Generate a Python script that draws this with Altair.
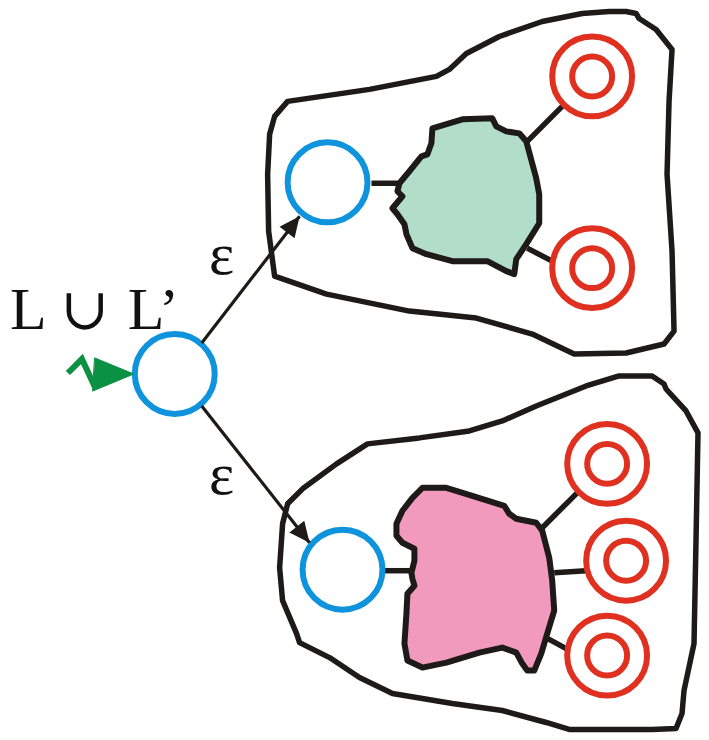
import altair as alt
import pandas as pd

# ---------------- data (pixel coordinates) ----------------
top_region_x = [288, 275, 270, 268, 269, 275, 327, 410, 477, 533, 575, 627, 665, 675, 673, 668, 670, 673, 657, 640, 637, 627, 610, 583, 543, 500, 467, 450, 437, 370]
top_region_y = [100, 115, 133, 173, 230, 275, 293, 310, 317, 333, 353, 352, 343, 330, 250, 173, 100, 48, 28, 17, 12, 10, 10, 12, 20, 35, 52, 68, 75, 88]

bot_region_x = [288, 303, 337, 368, 420, 470, 503, 537, 587, 620, 653, 665, 667, 687, 699, 697, 695, 685, 683, 677, 653, 570, 547, 503, 453, 393, 360, 330, 300, 297, 283, 280, 283]
bot_region_y = [503, 488, 463, 443, 437, 430, 420, 405, 385, 375, 375, 383, 388, 410, 432, 540, 643, 690, 713, 728, 729, 729, 722, 710, 703, 693, 677, 657, 642, 633, 600, 567, 523]

green_blob_x = [433, 463, 493, 497, 507, 520, 527, 537, 540, 540, 527, 517, 515, 507, 488, 453, 427, 413, 407, 405, 398, 393, 403, 398, 400, 410, 422, 428, 432]
green_blob_y = [127, 118, 117, 125, 130, 132, 140, 177, 193, 222, 243, 258, 273, 270, 260, 260, 253, 247, 233, 223, 213, 207, 195, 190, 182, 170, 155, 153, 142]

pink_blob_x = [423, 447, 473, 505, 510, 517, 537, 543, 550, 553, 555, 548, 542, 535, 528, 523, 517, 503, 480, 447, 423, 408, 405, 407, 408, 415, 413, 412, 415, 415, 403, 397, 397, 403, 413]
pink_blob_y = [487, 487, 495, 505, 513, 518, 522, 530, 557, 580, 610, 633, 653, 670, 670, 663, 652, 647, 652, 662, 667, 660, 643, 613, 593, 585, 578, 572, 560, 548, 542, 535, 523, 510, 497]

edge_x1 = [372, 528, 528, 385, 543, 555, 543]
edge_y1 = [182, 140, 247, 570, 527, 572, 635]
edge_x2 = [401, 564, 553, 413, 578, 587, 567]
edge_y2 = [182, 104, 260, 570, 492, 570, 648]

blue_x = [175, 328, 343]
blue_y = [373, 181, 569]

red_x = [593, 593, 608, 627, 608]
red_y = [75, 267, 463, 560, 655]

arrow_x1 = [202, 202]
arrow_y1 = [342, 405]
arrow_x2 = [300, 310]
arrow_y2 = [215, 542]
arrow_angle = [37.6, 141.7]

zig_x = [68, 82, 95]
zig_y = [372, 358, 386]
head_x = [95, 134, 93]
head_y = [357, 373, 390]

label_text = ["L", "\u222a", "L\u2019", "\u03b5", "\u03b5"]
label_x = [10, 85, 128, 222, 222]
label_y = [328, 328, 328, 273, 493]
label_align = ["left", "center", "left", "center", "center"]
label_size = [60, 58, 60, 60, 60]
label_font = ["Liberation Serif", "DejaVu Serif", "Liberation Serif", "Liberation Serif", "Liberation Serif"]

# ---------------- helpers ----------------
XS = alt.Scale(domain=[8, 701], nice=False, zero=False)
YS = alt.Scale(domain=[8, 732], reverse=True, nice=False, zero=False)


def poly_df(xs, ys):
    return pd.DataFrame({"x": xs, "y": ys, "i": list(range(len(xs)))})


def poly(xs, ys, stroke, width, fill=None):
    kw = dict(stroke=stroke, strokeWidth=width, interpolate="linear-closed",
              strokeJoin="round", strokeCap="round")
    if fill is not None:
        kw["fill"] = fill
    return alt.Chart(poly_df(xs, ys)).mark_line(**kw).encode(
        x=alt.X("x:Q", scale=XS, axis=None),
        y=alt.Y("y:Q", scale=YS, axis=None),
        order=alt.Order("i:Q"),
    )


BLACK = "#1d1a17"
BLUE = "#0e93dc"
RED = "#df3020"
GREEN = "#0b9142"

layers = []
layers.append(poly(top_region_x, top_region_y, BLACK, 5.5))
layers.append(poly(bot_region_x, bot_region_y, BLACK, 5.5))

edges = pd.DataFrame({"x": edge_x1, "y": edge_y1, "x2": edge_x2, "y2": edge_y2})
layers.append(alt.Chart(edges).mark_rule(color=BLACK, strokeWidth=5.5).encode(
    x=alt.X("x:Q", scale=XS, axis=None), y=alt.Y("y:Q", scale=YS, axis=None),
    x2="x2:Q", y2="y2:Q"))

layers.append(poly(green_blob_x, green_blob_y, BLACK, 6, fill="#b2dec9"))
layers.append(poly(pink_blob_x, pink_blob_y, BLACK, 6, fill="#f29abd"))

blues = pd.DataFrame({"x": blue_x, "y": blue_y})
layers.append(alt.Chart(blues).mark_point(shape="circle", filled=False, size=6400,
                                          stroke=BLUE, strokeWidth=6, opacity=1).encode(
    x=alt.X("x:Q", scale=XS, axis=None), y=alt.Y("y:Q", scale=YS, axis=None)))

reds = pd.DataFrame({"x": red_x, "y": red_y})
for sz in [6400, 1600]:
    layers.append(alt.Chart(reds).mark_point(shape="circle", filled=False, size=sz,
                                             stroke=RED, strokeWidth=6, opacity=1).encode(
        x=alt.X("x:Q", scale=XS, axis=None), y=alt.Y("y:Q", scale=YS, axis=None)))

arrows = pd.DataFrame({"x": arrow_x1, "y": arrow_y1, "x2": arrow_x2, "y2": arrow_y2, "a": arrow_angle})
layers.append(alt.Chart(arrows).mark_rule(color=BLACK, strokeWidth=3.2).encode(
    x=alt.X("x:Q", scale=XS, axis=None), y=alt.Y("y:Q", scale=YS, axis=None),
    x2="x2:Q", y2="y2:Q"))
layers.append(alt.Chart(arrows).mark_point(shape="M0,0L-0.6,1.3L0.6,1.3Z", filled=True,
                                           size=1000, color=BLACK, opacity=1).encode(
    x=alt.X("x2:Q", scale=XS, axis=None), y=alt.Y("y2:Q", scale=YS, axis=None),
    angle=alt.Angle("a:Q", scale=None)))

zig = pd.DataFrame({"x": zig_x, "y": zig_y, "i": [0, 1, 2]})
layers.append(alt.Chart(zig).mark_line(color=GREEN, strokeWidth=6).encode(
    x=alt.X("x:Q", scale=XS, axis=None), y=alt.Y("y:Q", scale=YS, axis=None),
    order=alt.Order("i:Q")))
layers.append(poly(head_x, head_y, GREEN, 1, fill=GREEN))

labels = pd.DataFrame({"t": label_text, "x": label_x, "y": label_y,
                       "al": label_align, "s": label_size, "f": label_font})
for _, row in labels.iterrows():
    d = labels.loc[[_]]
    layers.append(alt.Chart(d).mark_text(align=row.al, baseline="alphabetic",
                                         font=row.f, fontSize=int(row.s),
                                         color="#111111").encode(
        x=alt.X("x:Q", scale=XS, axis=None), y=alt.Y("y:Q", scale=YS, axis=None),
        text="t:N"))

chart = alt.layer(*layers).properties(width=693, height=724, padding=0).configure_view(stroke=None)
chart.save("out.html", embed_options={"renderer": "svg", "actions": False})
